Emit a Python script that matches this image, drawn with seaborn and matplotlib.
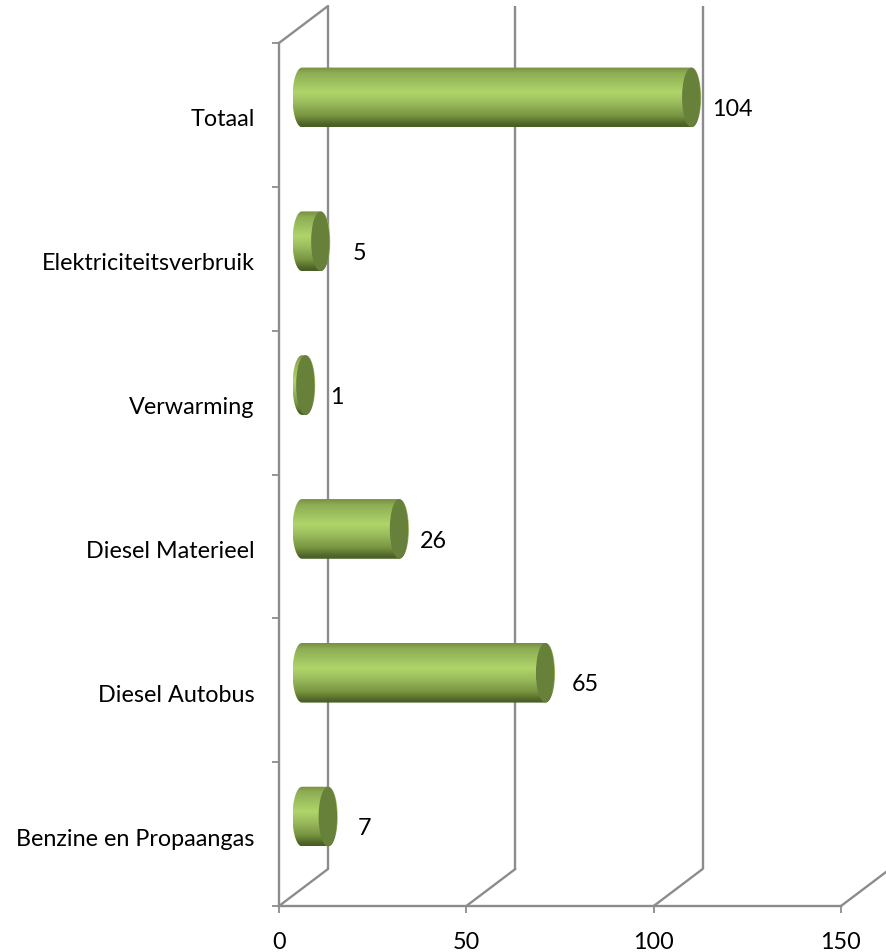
import numpy as np
import pandas as pd
import matplotlib
matplotlib.use("Agg")
import matplotlib.pyplot as plt
from matplotlib.colors import LinearSegmentedColormap
from matplotlib.patches import Ellipse, PathPatch
from matplotlib.path import Path
from matplotlib.transforms import Affine2D, IdentityTransform
import seaborn as sns

categories = ["Totaal", "Elektriciteitsverbruik", "Verwarming",
              "Diesel Materieel", "Diesel Autobus", "Benzine en Propaangas"]
values = [104, 5, 1, 26, 65, 7]
x_ticks = [0, 50, 100, 150]

GRAY = "#8c8c8c"
CAP = "#67803a"
FS = 16.8
grad = LinearSegmentedColormap.from_list("bar3d", [
    (0.0, "#75903f"), (0.10, "#8fad55"), (0.42, "#afd56a"), (0.62, "#98b85b"),
    (0.82, "#76933f"), (0.95, "#4f6428"), (1.0, "#485b25")])

sns.set_theme(style="white")
plt.rcParams["font.family"] = ["Lato", "DejaVu Sans"]
plt.rcParams["axes.edgecolor"] = GRAY

df = pd.DataFrame({"cat": categories, "val": values})
W, H = 886, 953
fig = plt.figure(figsize=(W / 100, H / 100), dpi=100, facecolor="white")
ax = fig.add_axes([279 / W, (H - 907) / H, 562 / W, 863 / H])

sns.barplot(data=df, x="val", y="cat", order=categories, orient="h",
            width=0.415, color="#9bbb59", ax=ax, zorder=3, saturation=1)
ax.set_xlim(0, 150)
ax.set_ylim(5.5, -0.5)
ax.set_xlabel("")
ax.set_ylabel("")
ax.set_xticks(x_ticks)

# axis furniture
for s in ["top", "right"]:
    ax.spines[s].set_visible(False)
for s in ["left", "bottom"]:
    ax.spines[s].set_linewidth(1.7)
    ax.spines[s].set_color(GRAY)
ax.set_yticks(np.arange(-0.5, 6, 1), minor=True)
ax.tick_params(axis="y", which="minor", left=True, length=5, width=1.3, color=GRAY)
ax.tick_params(axis="y", which="major", left=False, length=0, pad=17.5, labelsize=FS, labelcolor="black")
ax.tick_params(axis="x", bottom=True, length=5, width=1.3, color=GRAY, pad=13, labelsize=FS, labelcolor="black")
for lab in ax.get_yticklabels():
    lab.set_verticalalignment("center_baseline")
    lab.set_transform(lab.get_transform() + Affine2D().translate(0, -2))

# fake 3d walls
DX, DY = 49, 37
depth = ax.transData + Affine2D().translate(DX, DY)
ax.vlines(x_ticks[:-1], -0.5, 5.5, transform=depth, color=GRAY, lw=1.7, zorder=1, clip_on=False)
px = IdentityTransform()
corners = [(t, 5.5) for t in x_ticks] + [(0, -0.5)]
for pt in corners:
    p0 = ax.transData.transform(pt)
    ax.add_line(plt.Line2D([p0[0], p0[0] + DX], [p0[1], p0[1] + DY], transform=px,
                           color=GRAY, lw=1.7, zorder=1, clip_on=False))

# cylinders: gradient over the seaborn bars, dark end cap on top
shift = ax.transData + Affine2D().translate(23, 17.5)
c = 9.5 / (562 / 150)
t = np.linspace(-np.pi / 2, np.pi / 2, 40)
col = np.linspace(0, 1, 256).reshape(-1, 1)
label_dx = [41, 39, 31, 34, 40, 36]
for bar, v, dx in zip(ax.containers[0], values, label_dx):
    bar.set_visible(False)
    x1 = bar.get_x() + bar.get_width()
    y0, h = bar.get_y(), bar.get_height()
    yc = y0 + h / 2
    # outline: left half ellipse, then right half ellipse going back up
    xs = np.r_[-c * np.cos(t), x1 + c * np.cos(t[::-1])]
    ys = np.r_[yc + h / 2 * np.sin(t), yc + h / 2 * np.sin(t[::-1])]
    outline = PathPatch(Path(np.c_[xs, ys]), transform=shift, fc="none", ec="none")
    ax.add_patch(outline)
    im = ax.imshow(col, cmap=grad, aspect="auto", origin="upper", zorder=3,
                   extent=(-c, x1 + c, y0 + h, y0), vmin=0, vmax=1)
    im.set_transform(shift)
    im.set_clip_path(outline)
    ax.add_patch(Ellipse((x1 - 0.1, yc), 2 * c * 0.97, h * 0.995, transform=shift, fc=CAP, ec="none",
                         zorder=4, clip_on=False))
    ax.annotate(str(v), (x1, yc), xycoords=shift, xytext=(dx * 0.72, -10.5 * 0.72 - 0.5),
                textcoords="offset points", ha="center", va="center",
                fontsize=FS, color="black", annotation_clip=False)

ax.set_xlim(0, 150)
ax.set_ylim(5.5, -0.5)
fig.savefig("out.png", dpi=100)
